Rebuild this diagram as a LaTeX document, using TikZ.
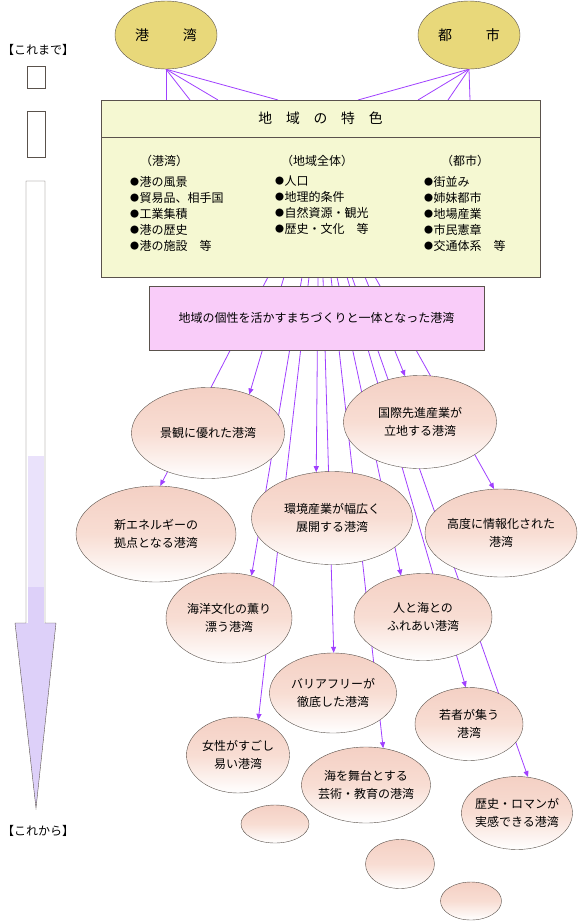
\documentclass[tikz,border=0pt]{standalone}
\usepackage{fontspec}
\newfontfamily\jpfont{Noto Sans CJK JP}
\usetikzlibrary{arrows.meta,shapes.geometric,backgrounds,positioning}
\definecolor{cityfill}{HTML}{E8D87A}
\definecolor{featfill}{HTML}{F5F8D2}
\definecolor{goalfill}{HTML}{F9CCF9}
\definecolor{wishtop}{HTML}{F4D0C4}
\definecolor{wishmid}{HTML}{F8DDD3}
\definecolor{linkcol}{HTML}{A040FF}
\definecolor{edgecol}{HTML}{5A524C}
\definecolor{lavlight}{HTML}{EAE2FB}
\definecolor{lavdark}{HTML}{DDD0F9}
\newcommand\itemdot{\raisebox{1pt}{\scalebox{0.75}{●}}\hspace{0.5pt}}

\begin{document}
\begin{tikzpicture}[x=1pt, y=-1pt,
  every node/.style={font=\jpfont\fontsize{12}{18}\selectfont},
  city/.style={ellipse, draw=edgecol, fill=cityfill, minimum width=102pt, minimum height=68pt, font=\jpfont\fontsize{14}{16}\selectfont},
  featbox/.style={draw=edgecol, fill=featfill, minimum width=439pt, outer sep=0pt},
  goalbox/.style={draw=edgecol, fill=goalfill, minimum width=335pt, minimum height=64pt},
  wish/.style={ellipse, draw=edgecol, top color=wishtop, bottom color=white, middle color=wishmid, inner xsep=-6pt, inner ysep=0pt, align=center},
  colhead/.style={inner sep=0pt},
  items/.style={anchor=north west, align=left, inner sep=0pt, font=\jpfont\fontsize{12}{16}\selectfont},
  link/.style={linkcol, line width=0.8pt},
  arr/.style={link, -{Triangle[length=6pt, width=5pt]}}
]
  \useasboundingbox (0,0) rectangle (580,921);

  % timeline on the left
  \node (past) at (38,50) {【これまで】};
  \node (future) at (38,831) {【これから】};
  \draw[edgecol, fill=white] (27,66) rectangle (45,88);
  \draw[edgecol, fill=white] (27,111) rectangle (45,157);
  \fill[white] (26,181) -- (45,181) -- (45,623) -- (56,623) -- (36,808) -- (15,623) -- (26,623) -- cycle;
  \fill[lavlight] (28,456) rectangle (43.5,587);
  \fill[lavdark] (28,587) rectangle (43.5,624);
  \fill[lavdark] (15,623) -- (56,623) -- (36,808) -- cycle;
  \draw[edgecol] (26,181) -- (45,181) -- (45,623) -- (56,623) -- (36,808) -- (15,623) -- (26,623) -- cycle;

  % port and city
  \node[city] (kowan) at (166,35) {港\hspace{34pt}湾};
  \node[city] (toshi) at (469,35) {都\hspace{34pt}市};

  % features of the region
  \node[featbox, minimum height=37pt, font=\jpfont\fontsize{13.8}{16}\selectfont] (feattitle) at (320.5,118.5) {地　域　の　特　色};
  \node[featbox, minimum height=140pt, below=0pt of feattitle] (feat) {};
  \node[colhead] (hport) at (164,161) {（港湾）};
  \node[colhead] (hall) at (317,161) {（地域全体）};
  \node[colhead] (hcity) at (465,161) {（都市）};
  \node[items] (iport) at (130,176) {\itemdot 港の風景\\\itemdot 貿易品、相手国\\\itemdot 工業集積\\\itemdot 港の歴史\\\itemdot 港の施設　等};
  \node[items] (iall) at (275,176) {\itemdot 人口\\\itemdot 地理的条件\\\itemdot 自然資源・観光\\\itemdot 歴史・文化　等};
  \node[items] (icity) at (424,176) {\itemdot 街並み\\\itemdot 姉妹都市\\\itemdot 地場産業\\\itemdot 市民憲章\\\itemdot 交通体系　等};

  % goal
  \node[goalbox] (goal) at (316.5,318) {地域の個性を活かすまちづくりと一体となった港湾};

  % ports of the future
  \node[wish, minimum width=153pt, minimum height=91pt] (keikan) at (208,433) {景観に優れた港湾};
  \node[wish, minimum width=153pt, minimum height=93pt] (kokusai) at (420,422) {国際先進産業が\\立地する港湾};
  \node[wish, minimum width=160pt, minimum height=96pt] (shinene) at (156,534) {新エネルギーの\\拠点となる港湾};
  \node[wish, minimum width=161pt, minimum height=93pt] (kankyo) at (332,518) {環境産業が幅広く\\展開する港湾};
  \node[wish, minimum width=152pt, minimum height=88pt] (kodo) at (501,533) {高度に情報化された\\港湾};
  \node[wish, minimum width=126pt, minimum height=90pt] (kaiyo) at (229,618) {海洋文化の薫り\\漂う港湾};
  \node[wish, minimum width=138pt, minimum height=87pt] (hitoumi) at (423,617) {人と海との\\ふれあい港湾};
  \node[wish, minimum width=127pt, minimum height=80pt] (barrier) at (333,693) {バリアフリーが\\徹底した港湾};
  \node[wish, minimum width=103pt, minimum height=76pt] (josei) at (238,755) {女性がすごし\\易い港湾};
  \node[wish, minimum width=108pt, minimum height=73pt] (wakamono) at (469,724) {若者が集う\\港湾};
  \node[wish, minimum width=129pt, minimum height=76pt] (butai) at (366,785) {海を舞台とする\\芸術・教育の港湾};
  \node[wish, minimum width=111pt, minimum height=73pt] (rekishi) at (517,813) {歴史・ロマンが\\実感できる港湾};
  \node[wish, minimum width=68pt, minimum height=38pt] (blank1) at (275,824) {};
  \node[wish, minimum width=69pt, minimum height=49pt] (blank2) at (400,864) {};
  \node[wish, minimum width=61pt, minimum height=38pt] (blank3) at (471,901) {};

  % connectors
  \begin{scope}[on background layer]
    \foreach \n/\dx in {k1/65, k2/89, k3/117, k4/177, c1/257, c2/317, c3/347, c4/369}
      \path (feattitle.north west) ++(\dx,0) coordinate (\n);
    \foreach \n in {k1,k2,k3,k4}
      \draw[link] (kowan.south) -- (\n);
    \foreach \n in {c1,c2,c3,c4}
      \draw[link] (toshi.south) -- (\n);

    \foreach \n/\dx in {b1/167, b2/183, b3/201, b4/208, b5/217, b6/222, b7/230, b8/236, b9/246, b10/251, b11/264, b12/274}
      \path (feat.south west) ++(\dx,0) coordinate (\n);
    \draw[arr] (b1) -- (shinene.85);
    \draw[arr] (b2) -- (keikan.43);
    \draw[arr] (b3) -- (kaiyo.62);
    \draw[arr] (b4) -- (josei.60);
    \draw[arr] (b5) -- (kankyo.109);
    \draw[arr] (b6) -- (barrier.89);
    \draw[arr] (b7) -- (butai.65);
    \draw[arr] (b8) -- (hitoumi.118);
    \draw[arr] (b9) -- (wakamono.95);
    \draw[arr] (b10) -- (rekishi.73);
    \draw[arr] (b11) -- (kokusai.108);
    \draw[arr] (b12) -- (kodo.99);
  \end{scope}
\end{tikzpicture}
\end{document}
